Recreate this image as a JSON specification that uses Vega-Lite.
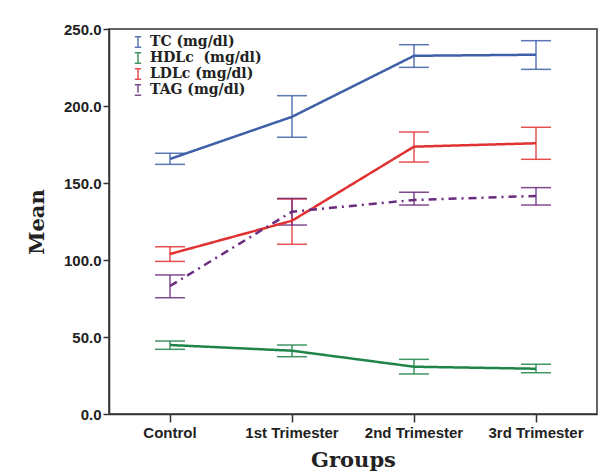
{
  "$schema": "https://vega.github.io/schema/vega-lite/v6.json",
  "autosize": {"type": "none"},
  "padding": {"left": 109, "top": 29, "right": 16, "bottom": 59},
  "width": 488,
  "height": 385,
  "background": "white",
  "config": {
    "view": {"stroke": "#333333", "strokeWidth": 1.5},
    "axis": {"grid": false, "domainColor": "#333333", "domainWidth": 1.5, "tickColor": "#333333", "tickWidth": 1.5, "labelFont": "Liberation Sans", "labelFontWeight": "bold", "labelFontSize": 15, "labelColor": "#222222", "titleFont": "DejaVu Serif", "titleFontWeight": "bold", "titleColor": "#222222"}
  },
  "data": {"values": [
    {"group": "Control", "series": "TC (mg/dl)", "mean": 165.6, "lo": 162.1, "hi": 169.3},
    {"group": "1st Trimester", "series": "TC (mg/dl)", "mean": 193.0, "lo": 179.7, "hi": 206.7},
    {"group": "2nd Trimester", "series": "TC (mg/dl)", "mean": 232.6, "lo": 225.1, "hi": 239.8},
    {"group": "3rd Trimester", "series": "TC (mg/dl)", "mean": 233.3, "lo": 223.8, "hi": 242.4},
    {"group": "Control", "series": "HDLc\u00a0 (mg/dl)", "mean": 44.8, "lo": 42.0, "hi": 47.4},
    {"group": "1st Trimester", "series": "HDLc\u00a0 (mg/dl)", "mean": 41.1, "lo": 37.2, "hi": 44.8},
    {"group": "2nd Trimester", "series": "HDLc\u00a0 (mg/dl)", "mean": 30.7, "lo": 26.0, "hi": 35.5},
    {"group": "3rd Trimester", "series": "HDLc\u00a0 (mg/dl)", "mean": 29.4, "lo": 26.8, "hi": 32.3},
    {"group": "Control", "series": "LDLc (mg/dl)", "mean": 103.9, "lo": 99.1, "hi": 108.6},
    {"group": "1st Trimester", "series": "LDLc (mg/dl)", "mean": 125.5, "lo": 110.2, "hi": 139.6},
    {"group": "2nd Trimester", "series": "LDLc (mg/dl)", "mean": 173.6, "lo": 163.6, "hi": 183.1},
    {"group": "3rd Trimester", "series": "LDLc (mg/dl)", "mean": 175.8, "lo": 165.4, "hi": 186.2},
    {"group": "Control", "series": "TAG (mg/dl)", "mean": 83.1, "lo": 75.5, "hi": 90.3},
    {"group": "1st Trimester", "series": "TAG (mg/dl)", "mean": 131.4, "lo": 122.7, "hi": 140.0},
    {"group": "2nd Trimester", "series": "TAG (mg/dl)", "mean": 139.0, "lo": 135.7, "hi": 144.0},
    {"group": "3rd Trimester", "series": "TAG (mg/dl)", "mean": 141.6, "lo": 135.7, "hi": 147.0}
  ]},
  "encoding": {
    "x": {"field": "group", "type": "nominal", "sort": ["Control", "1st Trimester", "2nd Trimester", "3rd Trimester"], "scale": {"paddingInner": 0, "paddingOuter": 0}, "axis": {"title": "Groups", "titleFontSize": 21, "labelAngle": 0, "tickSize": 8, "labelPadding": 3, "titlePadding": 9}},
    "color": {"field": "series", "type": "nominal", "scale": {"domain": ["TC (mg/dl)", "HDLc\u00a0 (mg/dl)", "LDLc (mg/dl)", "TAG (mg/dl)"], "range": ["#3f5fa8", "#1f8448", "#e03232", "#6b2b7e"]},
      "legend": {"title": null, "orient": "none", "legendX": 22, "legendY": 6, "labelFont": "DejaVu Serif", "labelFontWeight": "bold", "labelFontSize": 14, "labelColor": "#222222", "symbolType": "M-0.6,-1H0.6M0,-1V1M-0.6,1H0.6", "symbolSize": 110, "symbolStrokeWidth": 1.5, "rowPadding": -3, "labelOffset": 5, "symbolDash": [1, 0], "symbolFillColor": "transparent"}}
  },
  "layer": [
    {"mark": {"type": "rule", "strokeWidth": 1.5, "opacity": 0.85}, "encoding": {"y": {"field": "lo", "type": "quantitative"}, "y2": {"field": "hi"}}},
    {"mark": {"type": "tick", "thickness": 1.5, "size": 30, "opacity": 0.85}, "encoding": {"y": {"field": "hi", "type": "quantitative"}}},
    {"mark": {"type": "tick", "thickness": 1.5, "size": 30, "opacity": 0.85}, "encoding": {"y": {"field": "lo", "type": "quantitative"}}},
    {"mark": {"type": "line", "strokeWidth": 2.5}, "encoding": {
      "y": {"field": "mean", "type": "quantitative", "scale": {"domain": [0, 250], "nice": false}, "axis": {"title": "Mean", "titleFontSize": 21, "values": [0, 50, 100, 150, 200, 250], "format": ".1f", "tickSize": 6, "labelPadding": 2, "titlePadding": 16}},
      "strokeDash": {"field": "series", "type": "nominal", "scale": {"domain": ["TC (mg/dl)", "HDLc\u00a0 (mg/dl)", "LDLc (mg/dl)", "TAG (mg/dl)"], "range": [[1, 0], [1, 0], [1, 0], [8, 5, 2, 5]]}, "legend": null}
    }}
  ]
}
